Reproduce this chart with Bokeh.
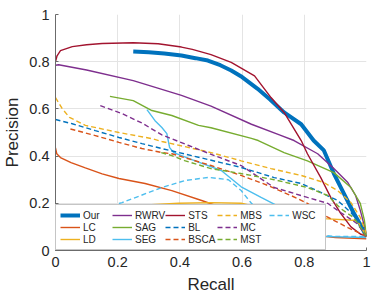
from bokeh.plotting import figure
from bokeh.models import Legend, LegendItem, FixedTicker, CustomJSTickFormatter, Range1d
from bokeh.embed import file_html
from bokeh.resources import INLINE

# ---- data ----
our_x = [0.25, 0.3, 0.35, 0.405, 0.45, 0.49, 0.53, 0.565, 0.6, 0.65, 0.69, 0.735, 0.79, 0.83, 0.863, 0.895, 0.927, 0.958, 0.98, 1.0]
our_y = [0.843, 0.84, 0.835, 0.826, 0.815, 0.805, 0.785, 0.763, 0.735, 0.685, 0.64, 0.585, 0.535, 0.466, 0.424, 0.326, 0.242, 0.161, 0.11, 0.06]

lc_x = [0, 0.004, 0.016, 0.05, 0.096, 0.15, 0.204, 0.288, 0.374, 0.47, 0.543, 0.62, 0.7, 0.8, 0.9, 1.0]
lc_y = [0.435, 0.41, 0.394, 0.372, 0.35, 0.325, 0.305, 0.284, 0.254, 0.212, 0.178, 0.14, 0.1, 0.07, 0.055, 0.05]

ld_x = [0, 0.1, 0.182, 0.25, 0.396, 0.5, 0.597, 0.65, 0.75, 0.863, 0.97, 1.0]
ld_y = [0.12, 0.155, 0.182, 0.19, 0.2, 0.203, 0.2, 0.185, 0.15, 0.135, 0.127, 0.06]

rwrv_x = [0, 0.01, 0.1, 0.25, 0.405, 0.5, 0.63, 0.72, 0.767, 0.843, 0.895, 0.94, 0.965, 0.98, 1.0]
rwrv_y = [0.785, 0.787, 0.765, 0.72, 0.657, 0.612, 0.535, 0.49, 0.466, 0.41, 0.347, 0.288, 0.233, 0.17, 0.07]

sag_x = [0.175, 0.25, 0.31, 0.374, 0.46, 0.5, 0.63, 0.652, 0.735, 0.81, 0.895, 0.95, 0.98, 0.993, 1.0]
sag_y = [0.653, 0.635, 0.593, 0.572, 0.53, 0.52, 0.475, 0.466, 0.415, 0.38, 0.33, 0.267, 0.2, 0.13, 0.06]

seg_x = [0.294, 0.32, 0.342, 0.358, 0.367, 0.38, 0.447, 0.533, 0.597, 0.661, 0.725, 0.78, 0.85, 1.0]
seg_y = [0.597, 0.55, 0.521, 0.495, 0.436, 0.415, 0.381, 0.339, 0.27, 0.225, 0.182, 0.12, 0.06, 0.055]

sts_x = [0, 0.005, 0.016, 0.054, 0.1, 0.15, 0.25, 0.33, 0.405, 0.44, 0.5, 0.565, 0.64, 0.693, 0.735, 0.79, 0.81, 0.853, 0.885, 0.917, 0.95, 0.98, 1.0]
sts_y = [0.80, 0.825, 0.847, 0.864, 0.872, 0.877, 0.88, 0.876, 0.862, 0.852, 0.83, 0.797, 0.74, 0.648, 0.585, 0.466, 0.41, 0.309, 0.225, 0.157, 0.1, 0.07, 0.06]

bl_x = [0, 0.054, 0.128, 0.204, 0.278, 0.342, 0.438, 0.597, 0.703, 0.79, 0.853, 0.907, 0.95, 0.98, 1.0]
bl_y = [0.555, 0.537, 0.508, 0.479, 0.453, 0.432, 0.402, 0.352, 0.309, 0.284, 0.246, 0.212, 0.161, 0.11, 0.06]

bsca_x = [0.048, 0.128, 0.204, 0.278, 0.342, 0.374, 0.5, 0.597, 0.684, 0.757, 0.81, 0.853, 0.94, 1.0]
bsca_y = [0.515, 0.487, 0.458, 0.432, 0.415, 0.41, 0.36, 0.318, 0.275, 0.233, 0.2, 0.157, 0.097, 0.06]

mbs_x = [0, 0.022, 0.045, 0.096, 0.204, 0.31, 0.342, 0.5, 0.597, 0.693, 0.79, 0.863, 0.907, 0.95, 0.98, 1.0]
mbs_y = [0.648, 0.6, 0.564, 0.53, 0.5, 0.474, 0.462, 0.415, 0.38, 0.347, 0.318, 0.288, 0.254, 0.203, 0.14, 0.07]

mc_x = [0.144, 0.214, 0.278, 0.342, 0.428, 0.511, 0.597, 0.703, 0.81, 0.875, 0.917, 0.97, 1.0]
mc_y = [0.614, 0.58, 0.54, 0.49, 0.445, 0.402, 0.36, 0.267, 0.225, 0.2, 0.161, 0.114, 0.06]

mst_x = [0.34, 0.374, 0.415, 0.5, 0.597, 0.703, 0.81, 0.875, 0.917, 0.958, 0.985, 1.0]
mst_y = [0.415, 0.402, 0.381, 0.347, 0.326, 0.3, 0.267, 0.233, 0.178, 0.14, 0.09, 0.06]

wsc_x = [0.204, 0.214, 0.342, 0.415, 0.492, 0.556, 0.597, 0.63, 0.7, 0.8, 0.9, 1.0]
wsc_y = [0.199, 0.203, 0.267, 0.296, 0.31, 0.3, 0.254, 0.2, 0.12, 0.07, 0.06, 0.06]

ticks = [0, 0.2, 0.4, 0.6, 0.8, 1.0]

# ---- colors (MATLAB default palette) ----
BLUE = "#0072BD"; ORANGE = "#D95319"; YELLOW = "#EDB120"; PURPLE = "#7E2F8E"
GREEN = "#77AC30"; CYAN = "#4DBEEE"; RED = "#A2142F"

series = [
    ("Our", our_x, our_y, BLUE, "solid", 4),
    ("LC", lc_x, lc_y, ORANGE, "solid", 1.4),
    ("LD", ld_x, ld_y, YELLOW, "solid", 1.4),
    ("RWRV", rwrv_x, rwrv_y, PURPLE, "solid", 1.4),
    ("SAG", sag_x, sag_y, GREEN, "solid", 1.4),
    ("SEG", seg_x, seg_y, CYAN, "solid", 1.4),
    ("STS", sts_x, sts_y, RED, "solid", 1.4),
    ("BL", bl_x, bl_y, BLUE, "5 3", 1.4),
    ("BSCA", bsca_x, bsca_y, ORANGE, "5 3", 1.4),
    ("MBS", mbs_x, mbs_y, YELLOW, "5 3", 1.4),
    ("MC", mc_x, mc_y, PURPLE, "5 3", 1.4),
    ("MST", mst_x, mst_y, GREEN, "5 3", 1.4),
    ("WSC", wsc_x, wsc_y, CYAN, "5 3", 1.4),
]

p = figure(width=374, height=298, x_range=Range1d(0, 1), y_range=Range1d(0, 1),
           output_backend="svg", toolbar_location=None,
           min_border_left=53, min_border_right=8, min_border_top=14, min_border_bottom=48)

FONT = "Liberation Sans"
p.outline_line_color = None
p.background_fill_color = "white"

for ax in (p.xaxis[0], p.yaxis[0]):
    ax.ticker = FixedTicker(ticks=ticks)
    ax.formatter = CustomJSTickFormatter(code="return (Math.round(tick*10)/10).toString();")
    ax.major_label_text_font = FONT
    ax.major_label_text_font_size = "14.5px"
    ax.major_label_text_color = "#262626"
    ax.axis_label_text_font = FONT
    ax.axis_label_text_font_size = "17px"
    ax.axis_label_text_font_style = "normal"
    ax.axis_label_text_color = "#262626"
    ax.axis_line_color = "#6b6b6b"
    ax.major_tick_line_color = "#6b6b6b"
    ax.major_tick_in = 3
    ax.major_tick_out = 0
    ax.minor_tick_line_color = None

p.xaxis.major_label_standoff = 6
p.yaxis.major_label_standoff = 6
p.xaxis.axis_label = "Recall"
p.yaxis.axis_label = "Precision"
p.xaxis.axis_label_standoff = 5
p.yaxis.axis_label_standoff = 4

p.xgrid.ticker = FixedTicker(ticks=ticks)
p.ygrid.ticker = FixedTicker(ticks=ticks)
p.xgrid.grid_line_color = "#e4e4e4"
p.ygrid.grid_line_color = "#e4e4e4"

items = []
for name, xs, ys, col, dash, lw in series:
    r = p.line(xs, ys, line_color=col, line_width=lw, line_dash=dash)
    items.append(LegendItem(label=name, renderers=[r]))

legend = Legend(items=items, location=(0, 0), orientation="vertical", nrows=3,
                label_text_font=FONT, label_text_font_size="10px", label_text_color="#262626",
                glyph_width=20, glyph_height=12, label_height=12, label_width=29,
                label_standoff=3, spacing=0, padding=4, margin=0,
                border_line_color="#8c8c8c", border_line_width=1,
                background_fill_color="white", background_fill_alpha=1.0)
p.add_layout(legend, "center")

open("out.html", "w").write(file_html(p, INLINE))
